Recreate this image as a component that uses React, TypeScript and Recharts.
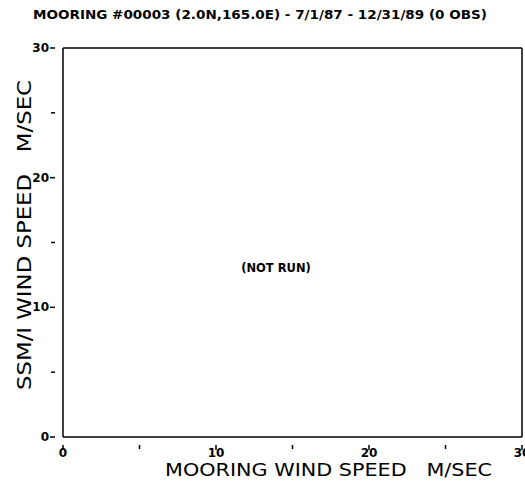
import React from "react";
import {
  Customized,
  ReferenceLine,
  Scatter,
  ScatterChart,
  XAxis,
  YAxis,
} from "recharts";

// Mooring vs SSM/I wind speed scatter — this period has no observations,
// so the frame is drawn empty with a "(NOT RUN)" note in the middle.

const TITLE = "MOORING #00003 (2.0N,165.0E) - 7/1/87 - 12/31/89 (0 OBS)";
const X_LABEL = "MOORING WIND SPEED   M/SEC";
const Y_LABEL = "SSM/I WIND SPEED   M/SEC";
const NOTE = "(NOT RUN)";

const DOMAIN: [number, number] = [0, 30];
const TICKS = [0, 5, 10, 15, 20, 25, 30];
const LABELED_TICKS = [0, 10, 20, 30];

// no buoy / satellite pairs for this mooring
const mooringSpeed: number[] = [];
const ssmiSpeed: number[] = [];

const points = mooringSpeed.map((x, i) => ({ x, y: ssmiSpeed[i] }));

const INK = "#000000";
const FONT = "'DejaVu Sans', Verdana, sans-serif";

function XTick(props: any) {
  const { x, y, payload } = props;
  const major = LABELED_TICKS.includes(payload.value);
  return (
    <g>
      <line x1={x} x2={x} y1={y} y2={y + (major ? 5 : 4)} stroke={INK} strokeWidth={1.5} />
      {major && (
        <text
          x={x}
          y={y + 12}
          textAnchor="middle"
          fontFamily={FONT}
          fontWeight="bold"
          fontSize={12}
          fill={INK}
        >
          {payload.value}
        </text>
      )}
    </g>
  );
}

function YTick(props: any) {
  const { x, y, payload } = props;
  const major = LABELED_TICKS.includes(payload.value);
  return (
    <g>
      <line x1={x} x2={x - (major ? 5 : 4)} y1={y} y2={y} stroke={INK} strokeWidth={1.5} />
      {major && (
        <text
          x={x - 6}
          y={y + 4}
          textAnchor="end"
          fontFamily={FONT}
          fontWeight="bold"
          fontSize={12}
          fill={INK}
        >
          {payload.value}
        </text>
      )}
    </g>
  );
}

function Annotations() {
  return (
    <g fontFamily={FONT} fill={INK}>
      <text
        x={33}
        y={19}
        fontSize={11.5}
        fontWeight="bold"
        textLength={454}
        lengthAdjust="spacingAndGlyphs"
        style={{ whiteSpace: "pre" }}
      >
        {TITLE}
      </text>
      <text
        x={165}
        y={476}
        fontSize={17}
        textLength={327}
        lengthAdjust="spacingAndGlyphs"
        style={{ whiteSpace: "pre" }}
      >
        {X_LABEL}
      </text>
      <text
        transform="translate(31, 390) rotate(-90)"
        fontSize={20}
        textLength={310}
        lengthAdjust="spacingAndGlyphs"
        style={{ whiteSpace: "pre" }}
      >
        {Y_LABEL}
      </text>
      <text x={276} y={272} fontSize={11.5} fontWeight="bold" textAnchor="middle">
        {NOTE}
      </text>
    </g>
  );
}

export default function App() {
  return (
    <div style={{ position: "absolute", left: 0, top: 0, width: 525, height: 481, background: "#fff" }}>
      <ScatterChart
        width={525}
        height={481}
        margin={{ top: 48, right: 3, bottom: 14, left: 23 }}
      >
        <XAxis
          type="number"
          dataKey="x"
          domain={DOMAIN}
          ticks={TICKS}
          interval={0}
          allowDataOverflow
          height={30}
          axisLine={{ stroke: INK, strokeWidth: 1.5 }}
          tickLine={false}
          tick={<XTick />}
        />
        <YAxis
          type="number"
          dataKey="y"
          domain={DOMAIN}
          ticks={TICKS}
          interval={0}
          allowDataOverflow
          width={40}
          axisLine={{ stroke: INK, strokeWidth: 1.5 }}
          tickLine={false}
          tick={<YTick />}
        />
        <ReferenceLine y={30} stroke={INK} strokeWidth={1.5} />
        <ReferenceLine x={30} stroke={INK} strokeWidth={1.5} />
        <Scatter data={points} fill={INK} isAnimationActive={false} />
        <Customized component={Annotations} />
      </ScatterChart>
    </div>
  );
}
